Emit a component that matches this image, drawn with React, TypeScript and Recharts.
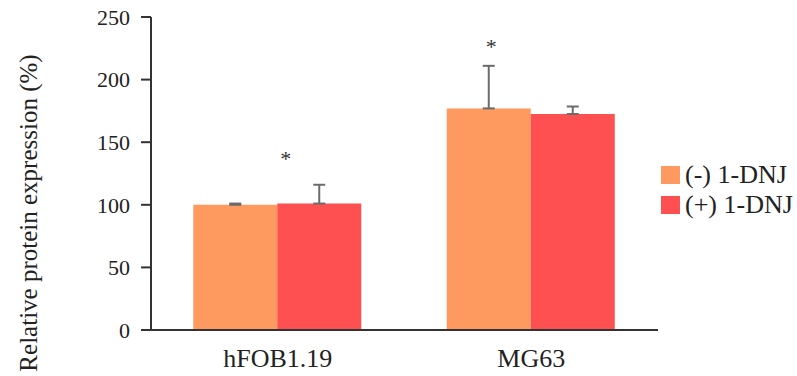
import { BarChart, Bar, XAxis, YAxis, ErrorBar, ReferenceDot } from 'recharts';

const cellLines = ['hFOB1.19', 'MG63'];
const withoutDnj = [100, 177];
const withDnj = [101, 172.5];
const withoutDnjErr = [1, 34];
const withDnjErr = [15, 6];
const starValues = [138, 228];
const yTicks = [0, 50, 100, 150, 200, 250];

const ORANGE = '#FE9A5F';
const RED = '#FE5050';
const AXIS = '#333333';
const SERIF = '"Liberation Serif", "Times New Roman", Times, serif';

const data = cellLines.map((name, i) => ({
  name,
  minus: withoutDnj[i],
  plus: withDnj[i],
  minusErr: [0, withoutDnjErr[i]],
  plusErr: [0, withDnjErr[i]],
}));

// stars sit a little off the group centre in the original
const starShift = [8, -40];

const legendItems = [
  { label: '(-) 1-DNJ', color: ORANGE },
  { label: '(+) 1-DNJ', color: RED },
];

function XTick(props: any) {
  const { x, y, payload } = props;
  return (
    <text x={x} y={y + 37} textAnchor="middle" style={{ fontFamily: SERIF }} fontSize={26} fill="#222">
      {payload.value}
    </text>
  );
}

function YTitle(props: any) {
  const { viewBox } = props;
  const cx = viewBox.x + 28;
  const cy = viewBox.y + 196;
  return (
    <text
      x={cx}
      y={cy}
      transform={`rotate(-90, ${cx}, ${cy})`}
      textAnchor="middle"
      dominantBaseline="central"
      style={{ fontFamily: SERIF }}
      fontSize={25}
      fill="#222"
    >
      Relative protein expression (%)
    </text>
  );
}

export default function App() {
  return (
    <div
      style={{
        position: 'absolute',
        left: 0,
        top: 0,
        width: 797,
        height: 376,
        background: '#fff',
        fontFamily: SERIF,
      }}
    >
      <BarChart
        width={797}
        height={376}
        data={data}
        margin={{ top: 17, right: 139, bottom: 0, left: 0 }}
        barCategoryGap="16.67%"
        barGap={0}
      >
        <XAxis
          dataKey="name"
          height={46}
          tickLine={false}
          tickSize={0}
          tickMargin={0}
          stroke={AXIS}
          strokeWidth={2}
          tick={<XTick />}
        />
        <YAxis
          width={151}
          domain={[0, 250]}
          ticks={yTicks}
          tickSize={10}
          tickMargin={11}
          stroke={AXIS}
          strokeWidth={2}
          tick={{ style: { fontFamily: SERIF }, fontSize: 22, fill: '#222' }}
          label={<YTitle />}
        />
        <Bar dataKey="minus" fill={ORANGE} isAnimationActive={false}>
          <ErrorBar dataKey="minusErr" width={6} stroke="#6b6b6b" strokeWidth={2} direction="y" />
        </Bar>
        <Bar dataKey="plus" fill={RED} isAnimationActive={false}>
          <ErrorBar dataKey="plusErr" width={6} stroke="#6b6b6b" strokeWidth={2} direction="y" />
        </Bar>
        {cellLines.map((name, i) => (
          <ReferenceDot
            key={name}
            x={name}
            y={starValues[i]}
            ifOverflow="visible"
            shape={(p: any) => (
              <text
                x={p.cx + starShift[i]}
                y={p.cy + 9}
                textAnchor="middle"
                style={{ fontFamily: SERIF }}
                fontSize={22}
                fill="#333"
              >
                *
              </text>
            )}
          />
        ))}
      </BarChart>
      <div style={{ position: 'absolute', left: 661, top: 160, fontSize: 26, color: '#222', lineHeight: '30px' }}>
        {legendItems.map((it) => (
          <div key={it.label} style={{ display: 'flex', alignItems: 'center', height: 30 }}>
            <span style={{ width: 19, height: 18, background: it.color, marginRight: 5 }} />
            <span>{it.label}</span>
          </div>
        ))}
      </div>
    </div>
  );
}
